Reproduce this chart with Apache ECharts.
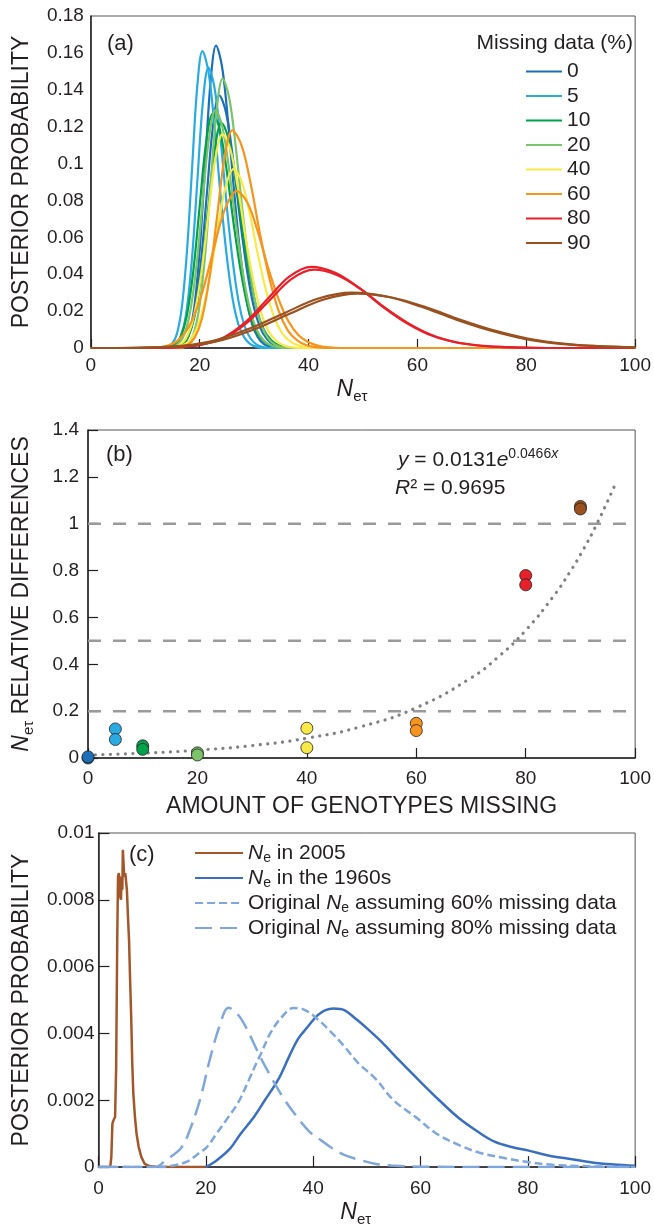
<!DOCTYPE html>
<html>
<head>
<meta charset="utf-8">
<script src="https://cdn.jsdelivr.net/npm/echarts@6/dist/echarts.min.js"></script>
<style>
  html, body { margin: 0; padding: 0; background: #fff; }
  #chart { width: 654px; height: 1228px; }
</style>
</head>
<body>
<div id="chart"></div>
<script>
// ---------- (a) posterior of N_et for each missing-data level ----------
var missingLevels = ['0', '5', '10', '20', '40', '60', '80', '90'];
var levelColors = ['#1c6fb7', '#29abe2', '#00a14b', '#7dc36b', '#f7e948', '#f7941d', '#e8202a', '#9b5020'];

// two runs per level, [N_et, posterior probability]
var post0a = [[0,0],[16.0,0],[17.0,0.0018],[18.0,0.0072],[19.0,0.0221],[20.0,0.0533],[21.0,0.0995],[22.0,0.1446],[23.0,0.164],[24.1,0.1525],[25.2,0.123],[26.3,0.0853],[27.4,0.0525],[28.5,0.0279],[29.6,0.0131],[30.7,0.0057],[31.8,0.0021],[32.9,0.0007],[34.0,0],[100,0]];
var post0b = [[0,0],[15.55,0],[16.7,0.0015],[17.85,0.006],[19.0,0.0185],[20.15,0.0445],[21.3,0.0832],[22.45,0.1208],[23.6,0.137],[24.85,0.1274],[26.1,0.1028],[27.35,0.0712],[28.6,0.0438],[29.85,0.0233],[31.1,0.011],[32.35,0.0048],[33.6,0.0018],[34.85,0.0005],[36.1,0],[100,0]];
var post5a = [[0,0],[13.85,0],[14.8,0.0018],[15.75,0.0071],[16.7,0.0217],[17.65,0.0523],[18.6,0.0977],[19.55,0.142],[20.5,0.161],[21.6,0.1497],[22.7,0.1208],[23.8,0.0837],[24.9,0.0515],[26.0,0.0274],[27.1,0.0129],[28.2,0.0056],[29.3,0.0021],[30.4,0.0006],[31.5,0],[100,0]];
var post5b = [[0,0],[14.6,0],[15.6,0.0017],[16.6,0.0067],[17.6,0.0205],[18.6,0.0494],[19.6,0.0923],[20.6,0.1341],[21.6,0.152],[22.7,0.1414],[23.8,0.114],[24.9,0.079],[26.0,0.0486],[27.1,0.0258],[28.2,0.0122],[29.3,0.0053],[30.4,0.002],[31.5,0.0006],[32.6,0],[100,0]];
var post10a = [[0,0],[14.0,0],[15.2,0.0014],[16.4,0.0056],[17.6,0.0171],[18.8,0.0413],[20.0,0.0771],[21.2,0.112],[22.4,0.127],[23.7,0.1181],[25.0,0.0953],[26.3,0.066],[27.6,0.0406],[28.9,0.0216],[30.2,0.0102],[31.5,0.0044],[32.8,0.0017],[34.1,0.0005],[35.4,0],[100,0]];
var post10b = [[0,0],[15.25,0],[16.5,0.0013],[17.75,0.0054],[19.0,0.0165],[20.25,0.0397],[21.5,0.0741],[22.75,0.1076],[24.0,0.122],[25.3,0.1135],[26.6,0.0915],[27.9,0.0634],[29.2,0.039],[30.5,0.0207],[31.8,0.0098],[33.1,0.0043],[34.4,0.0016],[35.7,0.0005],[37.0,0],[100,0]];
var post20a = [[0,0],[16.5,0],[17.6,0.0016],[18.7,0.0064],[19.8,0.0197],[20.9,0.0475],[22.0,0.0886],[23.1,0.1288],[24.2,0.146],[25.4,0.1358],[26.6,0.1095],[27.8,0.0759],[29.0,0.0467],[30.2,0.0248],[31.4,0.0117],[32.6,0.0051],[33.8,0.0019],[35.0,0.0006],[36.2,0],[100,0]];
var post20b = [[0,0],[14.5,0],[15.7,0.0014],[16.9,0.0057],[18.1,0.0174],[19.3,0.0419],[20.5,0.0783],[21.7,0.1138],[22.9,0.129],[24.15,0.12],[25.4,0.0968],[26.65,0.0671],[27.9,0.0413],[29.15,0.0219],[30.4,0.0103],[31.65,0.0045],[32.9,0.0017],[34.15,0.0005],[35.4,0],[100,0]];
var post40a = [[0,0],[14.75,0],[16.1,0.0013],[17.45,0.0051],[18.8,0.0157],[20.15,0.0377],[21.5,0.0704],[22.85,0.1023],[24.2,0.116],[25.6,0.1079],[27.0,0.087],[28.4,0.0603],[29.8,0.0371],[31.2,0.0197],[32.6,0.0093],[34.0,0.0041],[35.4,0.0015],[36.8,0.0005],[38.2,0],[100,0]];
var post40b = [[0,0],[15.0,0],[16.6,0.0011],[18.2,0.0043],[19.8,0.0131],[21.4,0.0315],[23.0,0.0589],[24.6,0.0856],[26.2,0.097],[27.7,0.0902],[29.2,0.0728],[30.7,0.0504],[32.2,0.031],[33.7,0.0165],[35.2,0.0078],[36.7,0.0034],[38.2,0.0013],[39.7,0.0004],[41.2,0],[100,0]];
var post60a = [[0,0],[16.2,0],[17.6,0.0013],[19.0,0.0052],[20.4,0.0159],[21.8,0.0384],[23.2,0.0716],[24.6,0.1041],[26.0,0.118],[27.7,0.1097],[29.4,0.0885],[31.1,0.0614],[32.8,0.0378],[34.5,0.0201],[36.2,0.0094],[37.9,0.0041],[39.6,0.0015],[41.3,0.0005],[43.0,0],[100,0]];
var post60b = [[0,0],[11.4,0],[13.6,0.0009],[15.8,0.0037],[18.0,0.0115],[20.2,0.0276],[22.4,0.0516],[24.6,0.075],[26.8,0.085],[28.7,0.0791],[30.6,0.0638],[32.5,0.0442],[34.4,0.0272],[36.3,0.0145],[38.2,0.0068],[40.1,0.003],[42.0,0.0011],[43.9,0.0003],[45.8,0],[100,0]];
var post80a = [[0,0],[12.5,0],[16.5,0.0005],[20.5,0.0019],[24.5,0.0059],[28.5,0.0143],[32.5,0.0267],[36.5,0.0388],[40.5,0.044],[44.8,0.0409],[49.1,0.033],[53.4,0.0229],[57.7,0.0141],[62.0,0.0075],[66.3,0.0035],[70.6,0.0015],[74.9,0.0006],[79.2,0.0002],[83.5,0],[100,0]];
var post80b = [[0,0],[12.3,0],[16.4,0.0005],[20.5,0.0019],[24.6,0.0057],[28.7,0.0138],[32.8,0.0258],[36.9,0.0375],[41.0,0.0425],[45.3,0.0395],[49.6,0.0319],[53.9,0.0221],[58.2,0.0136],[62.5,0.0072],[66.8,0.0034],[71.1,0.0015],[75.4,0.0006],[79.7,0.0002],[84.0,0],[100,0]];
var post90a = [[0,0],[4.6,0],[10.8,0.0003],[17.0,0.0013],[23.2,0.0045],[29.4,0.0108],[35.6,0.019],[41.8,0.0268],[48.0,0.030],[54.3,0.0279],[60.6,0.0225],[66.9,0.0156],[73.2,0.0096],[79.5,0.0051],[85.8,0.0024],[92.1,0.0011],[98.4,0.0004],[100,0.0003]];
var post90b = [[0,0],[5.6,0],[11.8,0.0003],[18.0,0.0013],[24.2,0.0044],[30.4,0.0106],[36.6,0.0187],[42.8,0.0263],[49.0,0.0295],[55.3,0.0274],[61.6,0.0221],[67.9,0.0153],[74.2,0.0094],[80.5,0.005],[86.8,0.0024],[93.1,0.001],[99.4,0.0004],[100,0.0003]];

var curvesA = [
    [post0a, post0b], [post5a, post5b], [post10a, post10b], [post20a, post20b],
    [post40a, post40b], [post60a, post60b], [post80a, post80b], [post90a, post90b]
];

// ---------- (b) relative differences vs amount of missing genotypes ----------
var missingPct = [0, 5, 10, 20, 40, 60, 80, 90];
var relDiffRun1 = [0.0, 0.124, 0.052, 0.022, 0.127, 0.148, 0.779, 1.074];
var relDiffRun2 = [0.005, 0.079, 0.037, 0.013, 0.044, 0.117, 0.739, 1.063];
var refLevels = [0.2, 0.5, 1.0];
// exponential trend line
var trendX = [0, 10, 20, 30, 40, 50, 60, 70, 75, 80, 85, 88, 90, 93, 96.6];
var trendY = [0.0131, 0.0209, 0.0333, 0.053, 0.0845, 0.1346, 0.2146, 0.3419, 0.4317, 0.545, 0.688, 0.791, 0.868, 0.999, 1.181];

// ---------- (c) Ne in 2005 vs 1960s ----------
var ne2005 = [[0,0],[2.2,0],[2.4,0.0003],[2.6,0.0013],[2.8,0.0014],[3.1,0.0015],[3.3,0.003],[3.5,0.0068],[3.65,0.0087],[3.8,0.0088],[3.95,0.0085],[4.05,0.0081],[4.2,0.008],[4.3,0.0087],[4.45,0.0083],[4.55,0.0095],[4.7,0.0095],[4.8,0.0087],[5.0,0.0088],[5.3,0.0083],[5.5,0.0075],[5.7,0.0068],[5.9,0.0056],[6.1,0.0045],[6.3,0.0031],[6.5,0.0022],[6.8,0.0015],[7.1,0.001],[7.5,0.0006],[8,0.0003],[8.6,0.0001],[9.5,0.00003],[11,0],[20,0]];
var ne1960 = [[20,0],[22,0.0002],[24.6,0.00057],[26.5,0.001],[28.8,0.00146],[31,0.002],[33.6,0.00265],[35.5,0.0033],[37.2,0.00384],[39,0.0042],[40.8,0.00454],[42.3,0.0047],[43.8,0.00475],[45.8,0.0047],[48,0.00443],[50.4,0.0041],[52.8,0.00374],[56,0.0032],[60,0.00255],[63.5,0.002],[67.2,0.00146],[70.5,0.00108],[73.8,0.00076],[77,0.0006],[80,0.0005],[84,0.00034],[87.6,0.00025],[92,0.00014],[96,0.00008],[100,0.00004]];
var orig60 = [[0,0],[11,0],[14,0.00005],[16.6,0.00017],[18.6,0.0004],[20.2,0.0006],[22,0.001],[24,0.00145],[26.1,0.00195],[28,0.0026],[29.4,0.0031],[30.3,0.0034],[32,0.004],[33.9,0.00444],[36.3,0.00476],[38.5,0.0047],[40.8,0.00443],[43,0.0041],[45.6,0.00365],[48.5,0.0031],[51.6,0.00265],[55,0.002],[59.4,0.00146],[63,0.001],[67.2,0.00066],[71,0.00043],[75.6,0.00027],[80,0.00015],[84.6,0.00007],[90,0.00003],[100,0]];
var orig80 = [[0,0],[10.6,0],[12.5,0.0002],[15.4,0.00057],[17,0.0011],[19,0.00206],[20.8,0.00325],[22.6,0.00424],[24.2,0.00477],[25.8,0.0046],[27.3,0.00424],[30.3,0.00325],[32.5,0.0026],[34.5,0.00206],[37,0.0015],[39.3,0.00106],[41.5,0.0008],[43.5,0.00057],[46,0.00035],[48.6,0.00022],[51.5,0.0001],[54.6,0.00005],[60,0.00001],[100,0]];

var FONT = "'Liberation Sans', Arial, Helvetica, sans-serif";
var INK = '#231f20';

// N_et style label used on axes
var neRich = {
    n: { fontStyle: 'italic', fontSize: 23, fontFamily: FONT, color: INK, lineHeight: 28 },
    s: { fontSize: 15, fontFamily: FONT, color: INK, lineHeight: 14, verticalAlign: 'bottom' }
};

function makeXAxis(idx, name, gap, tickLen, labelMargin, nameStyle) {
    return {
        type: 'value', gridIndex: idx, min: 0, max: 100, interval: 20,
        axisLine: { lineStyle: { color: INK, width: 1.5 } },
        axisTick: { inside: true, length: tickLen, lineStyle: { color: INK, width: 1.2 } },
        axisLabel: { color: INK, fontSize: 19, fontFamily: FONT, margin: labelMargin },
        splitLine: { show: false },
        name: name, nameLocation: 'middle', nameGap: gap,
        nameTextStyle: nameStyle
    };
}

function makeYAxis(idx, max, step, showTick, tickLen, labelMargin, name, nameStyle) {
    return {
        type: 'value', gridIndex: idx, min: 0, max: max, interval: step,
        axisLine: { lineStyle: { color: INK, width: 1.5 } },
        axisTick: { show: showTick, inside: true, length: tickLen, lineStyle: { color: INK, width: 1.2 } },
        axisLabel: { color: INK, fontSize: 19, fontFamily: FONT, margin: labelMargin },
        splitLine: { show: false },
        name: name, nameLocation: 'middle', nameGap: 52,
        nameTextStyle: nameStyle
    };
}

var capsName = { fontSize: 23, fontFamily: FONT, color: INK, lineHeight: 28 };

// ---------- series ----------
var series = [];

// 1. panel (a) curves
missingLevels.forEach(function (lv, i) {
    curvesA[i].forEach(function (curve) {
        series.push({
            type: 'line', name: lv, xAxisIndex: 0, yAxisIndex: 0,
            data: curve, smooth: 0.35, symbol: 'none',
            color: levelColors[i], lineStyle: { width: 2.2 }
        });
    });
});

// 2. panel (b) reference lines, trend and points
refLevels.forEach(function (v) {
    series.push({
        type: 'line', name: 'ref' + v, xAxisIndex: 1, yAxisIndex: 1, silent: true,
        data: [[0, v], [100, v]], symbol: 'none',
        lineStyle: { color: '#9a9a9a', width: 2.5, type: [13, 12] }
    });
});
series.push({
    type: 'line', name: 'trend', xAxisIndex: 1, yAxisIndex: 1, silent: true,
    data: trendX.map(function (x, i) { return [x, trendY[i]]; }),
    smooth: true, symbol: 'none',
    lineStyle: { color: '#808080', width: 3.2, type: [0.1, 7.4], cap: 'round' }
});
missingPct.forEach(function (p, i) {
    series.push({
        type: 'scatter', name: 'pts' + p, xAxisIndex: 1, yAxisIndex: 1,
        data: [[p, relDiffRun1[i]], [p, relDiffRun2[i]]],
        symbolSize: 12, z: 4,
        itemStyle: { color: levelColors[i], borderColor: INK, borderWidth: 0.8, opacity: 1 }
    });
});

// 3. panel (c) curves
var blueSolid = '#3a6fbf';
var blueLight = '#7fa7dc';
series.push({ type: 'line', name: 'ne2005', xAxisIndex: 2, yAxisIndex: 2, data: ne2005, symbol: 'none', color: '#a3562a', z: 3, lineStyle: { width: 2.5 } });
series.push({ type: 'line', name: 'ne1960', xAxisIndex: 2, yAxisIndex: 2, data: ne1960, smooth: 0.35, symbol: 'none', color: blueSolid, lineStyle: { width: 2.5 } });
series.push({ type: 'line', name: 'orig60', xAxisIndex: 2, yAxisIndex: 2, data: orig60, smooth: 0.35, symbol: 'none', color: blueLight, lineStyle: { width: 2.5, type: [8, 4] } });
series.push({ type: 'line', name: 'orig80', xAxisIndex: 2, yAxisIndex: 2, data: orig80, smooth: 0.35, symbol: 'none', color: blueLight, lineStyle: { width: 2.5, type: [17, 8] } });

var legendCText = {
    ne2005: '{i|N}{s|e} in 2005',
    ne1960: '{i|N}{s|e} in the 1960s',
    orig60: 'Original {i|N}{s|e} assuming 60% missing data',
    orig80: 'Original {i|N}{s|e} assuming 80% missing data'
};

// legend marker without the dot: only the series line stays visible
var noDot = { color: 'rgba(0,0,0,0)', borderWidth: 0, borderColor: 'rgba(0,0,0,0)' };

var option = {
    animation: false,
    backgroundColor: '#fff',
    textStyle: { fontFamily: FONT, color: INK },
    grid: [
        { left: 87, right: 13, top: 16, height: 332, show: true, borderColor: '#555', borderWidth: 1 },
        { left: 87, right: 13, top: 430, height: 328, show: true, borderColor: '#555', borderWidth: 1 },
        { left: 87, right: 13, top: 833, height: 336, show: true, borderColor: '#555', borderWidth: 1 }
    ],
    xAxis: [
        makeXAxis(0, '{n|N}{s|eτ}', 27, 9, 8, { rich: neRich, lineHeight: 28, padding: [0, 22, 0, 0] }),
        makeXAxis(1, 'AMOUNT OF GENOTYPES MISSING', 35, 10, 11, capsName),
        makeXAxis(2, '{n|N}{s|eτ}', 29, 11, 12, { rich: neRich, lineHeight: 28, padding: [0, 22, 0, 0] })
    ],
    yAxis: [
        makeYAxis(0, 0.18, 0.02, false, 0, 7, 'POSTERIOR PROBABILITY', capsName),
        makeYAxis(1, 1.4, 0.2, true, 10, 9, '{n|N}{s|eτ} RELATIVE DIFFERENCES',
            { fontSize: 23, fontFamily: FONT, color: INK, lineHeight: 28, rich: neRich }),
        makeYAxis(2, 0.01, 0.002, true, 11, 4, 'POSTERIOR PROBABILITY', capsName)
    ],
    legend: [
        {
            data: missingLevels, orient: 'vertical', left: 520, top: 56,
            itemWidth: 36, itemHeight: 14, itemGap: 3.5,
            itemStyle: noDot,
            textStyle: { fontSize: 21, fontFamily: FONT, color: INK, lineHeight: 21, padding: [0, 0, 0, 0] },
            selectedMode: false
        },
        {
            data: ['ne2005', 'ne1960', 'orig60', 'orig80'], orient: 'vertical', left: 189, top: 836,
            itemWidth: 48, itemHeight: 14, itemGap: 1,
            itemStyle: noDot,
            formatter: function (name) { return legendCText[name]; },
            textStyle: {
                fontSize: 21, fontFamily: FONT, color: INK, lineHeight: 24, padding: [0, 0, 0, 0],
                rich: {
                    i: { fontStyle: 'italic', fontSize: 21, fontFamily: FONT, color: INK, lineHeight: 24 },
                    s: { fontSize: 14, fontFamily: FONT, color: INK, lineHeight: 12, verticalAlign: 'bottom' }
                }
            },
            selectedMode: false
        }
    ],
    graphic: [
        { type: 'text', x: 107, y: 44, style: { text: '(a)', fontSize: 22, fontFamily: FONT, fill: INK, verticalAlign: 'middle' } },
        { type: 'text', x: 106, y: 455, style: { text: '(b)', fontSize: 22, fontFamily: FONT, fill: INK, verticalAlign: 'middle' } },
        { type: 'text', x: 129, y: 855, style: { text: '(c)', fontSize: 22, fontFamily: FONT, fill: INK, verticalAlign: 'middle' } },
        { type: 'text', x: 633, y: 43, style: { text: 'Missing data (%)', fontSize: 21, fontFamily: FONT, fill: INK, align: 'right', verticalAlign: 'middle' } },
        {
            type: 'text', x: 398, y: 460,
            style: {
                text: '{i|y} = 0.0131{i|e}{sup|0.0466}{supi|x}',
                fontSize: 21, fontFamily: FONT, fill: INK, lineHeight: 26, verticalAlign: 'middle',
                rich: {
                    i: { fontStyle: 'italic', fontSize: 21, fontFamily: FONT, fill: INK, lineHeight: 26 },
                    sup: { fontSize: 14, fontFamily: FONT, fill: INK, lineHeight: 12, verticalAlign: 'top' },
                    supi: { fontSize: 14, fontStyle: 'italic', fontFamily: FONT, fill: INK, lineHeight: 12, verticalAlign: 'top' }
                }
            }
        },
        {
            type: 'text', x: 395, y: 488,
            style: {
                text: '{i|R}² = 0.9695',
                fontSize: 21, fontFamily: FONT, fill: INK, lineHeight: 26, verticalAlign: 'middle',
                rich: { i: { fontStyle: 'italic', fontSize: 21, fontFamily: FONT, fill: INK, lineHeight: 26 } }
            }
        }
    ],
    series: series
};

var myChart = echarts.init(document.getElementById('chart'));
myChart.setOption(option, true);
</script>
</body>
</html>
